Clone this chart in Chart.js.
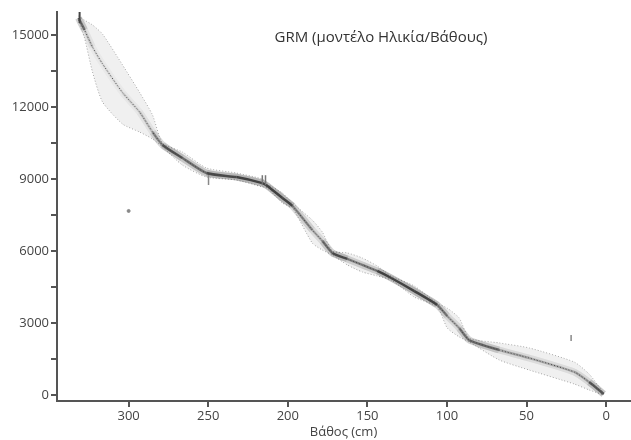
<!DOCTYPE html>
<html>
<head>
<meta charset="utf-8">
<title>GRM</title>
<script src="https://cdn.jsdelivr.net/npm/chart.js@4.4.1/dist/chart.umd.min.js"></script>
<style>
  html, body { margin: 0; padding: 0; background: #fff; overflow: hidden; }
  canvas { display: block; }
</style>
</head>
<body>
<canvas id="ageDepth" width="631" height="440"></canvas>
<script>
// Age-depth model: depth (cm) vs age (years), median with min/max envelope
const titleText = "GRM (μοντέλο Ηλικία/Βάθους)"
const xTitle = "Βάθος (cm)"

const depths = [331.5, 327.7, 322.7, 316.4, 303.8, 293.2, 285.0, 278.7, 266.2, 251.1, 232.3, 216.0, 212.8, 203.4, 197.1, 184.6,
    178.3, 172.0, 162.6, 153.2, 143.8, 135.0, 120.5, 106.1, 99.8, 92.3, 86.0, 67.2, 48.3, 20.1, 10.7, 1.5]
const medianAge = [15710, 15210, 14500, 13800, 12600, 11800, 10960, 10420, 9875, 9250, 9080, 8830, 8710, 8210, 7880, 6875,
    6420, 5920, 5670, 5420, 5170, 4875, 4330, 3750, 3290, 2790, 2290, 1875, 1540, 960, 540, 40]
const maxAge = [15790, 15620, 15420, 15040, 13750, 12620, 11670, 10500, 10125, 9460, 9250, 9000, 8790, 8420, 8000, 7290,
    6790, 6000, 5920, 5710, 5375, 4960, 4540, 3830, 3620, 3210, 2375, 2170, 1960, 1375, 875, 80]
const minAge = [15625, 14875, 13460, 12210, 11290, 10960, 10670, 10330, 9580, 9080, 8960, 8670, 8625, 8000, 7790, 6330,
    6040, 5830, 5420, 5125, 4960, 4790, 4080, 3670, 2790, 2420, 2210, 1460, 1040, 460, 210, 0]

// dated levels
const dateDepths = [330.8, 249.8, 216.0, 214.0, 300.0, 22.0]
const dateAges = [15750, 8960, 8950, 8950, 7670, 2375]

// axis ticks
const xTicks = [0, 50, 100, 150, 200, 250, 300]
const yTicks = [0, 1500, 3000, 4500, 6000, 7500, 9000, 10500, 12000, 13500, 15000]
const yLabels = [0, 3000, 6000, 9000, 12000, 15000]

const toPoints = (ys) => depths.map((d, i) => ({ x: d, y: ys[i] }))
const spread = (i) => Math.max(maxAge[i] - minAge[i], 1)
const segWidth = (ctx) => (spread(ctx.p0DataIndex) + spread(ctx.p1DataIndex)) / 2

const titlePlugin = {
    id: "chartTitle",
    afterDraw(chart) {
        const c = chart.ctx
        c.save()
        c.font = '15px "Open Sans", sans-serif'
        c.fillStyle = "#333"
        c.textAlign = "center"
        c.textBaseline = "middle"
        c.fillText(titleText, 381, 38)
        c.restore()
    },
}

Chart.defaults.font.family = '"Open Sans", sans-serif'
Chart.defaults.font.size = 13
Chart.defaults.color = "#444"

new Chart(document.getElementById("ageDepth"), {
    type: "line",
    data: {
        datasets: [
            {
                // median, dotted
                data: toPoints(medianAge),
                borderColor: "#444",
                borderWidth: 1,
                borderDash: [1, 2],
                pointRadius: 0,
                tension: 0.2,
                fill: false,
                order: 0,
            },
            {
                // dense core around the median
                data: toPoints(medianAge),
                borderWidth: 2.5,
                pointRadius: 0,
                tension: 0.2,
                fill: false,
                segment: {
                    borderColor: (ctx) => `rgba(0,0,0,${Math.min(0.65, 200 / segWidth(ctx)).toFixed(3)})`,
                },
                order: 2,
            },
            {
                // softer halo
                data: toPoints(medianAge),
                borderWidth: 7,
                pointRadius: 0,
                tension: 0.2,
                fill: false,
                segment: {
                    borderColor: (ctx) => `rgba(0,0,0,${Math.min(0.25, 80 / segWidth(ctx)).toFixed(3)})`,
                },
                order: 3,
            },
            {
                // older bound
                data: toPoints(maxAge),
                borderColor: "#a8a8a8",
                borderWidth: 1,
                borderDash: [1, 2],
                pointRadius: 0,
                tension: 0.2,
                fill: "+1",
                backgroundColor: "rgba(0,0,0,0.06)",
                order: 4,
            },
            {
                // younger bound
                data: toPoints(minAge),
                borderColor: "#a8a8a8",
                borderWidth: 1,
                borderDash: [1, 2],
                pointRadius: 0,
                tension: 0.2,
                fill: false,
                order: 5,
            },
            {
                // dates
                type: "scatter",
                data: dateDepths.map((d, i) => ({ x: d, y: dateAges[i] })),
                pointStyle: ["line", "line", "line", "line", "circle", "line"],
                rotation: 90,
                radius: [6, 5, 5, 5, 1.5, 3],
                borderWidth: [2, 1.5, 1.5, 1.5, 1, 1.5],
                borderColor: ["#444", "#888", "#777", "#777", "#888", "#888"],
                backgroundColor: "#888",
                order: 1,
            },
        ],
    },
    options: {
        responsive: false,
        animation: false,
        devicePixelRatio: 1,
        layout: { autoPadding: false, padding: { top: 12, right: 1, left: 0, bottom: 0 } },
        plugins: {
            legend: { display: false },
            tooltip: { enabled: false },
        },
        scales: {
            x: {
                type: "linear",
                reverse: true,
                min: -15,
                max: 345,
                afterBuildTicks: (scale) => {
                    scale.ticks = xTicks.map((v) => ({ value: v }))
                },
                afterFit: (scale) => {
                    scale.height = 39
                },
                ticks: { autoSkip: false, padding: 1, color: "#444", maxRotation: 0 },
                grid: { drawOnChartArea: false, drawTicks: true, tickLength: 6, color: "#555", lineWidth: 2 },
                border: { display: true, color: "#555", width: 2 },
                title: { display: true, text: xTitle, color: "#444", font: { size: 13 }, padding: { top: 0, bottom: 0 } },
            },
            y: {
                type: "linear",
                min: -250,
                max: 15960,
                afterBuildTicks: (scale) => {
                    scale.ticks = yTicks.map((v) => ({ value: v }))
                },
                afterFit: (scale) => {
                    scale.width = 57
                },
                ticks: {
                    autoSkip: false,
                    padding: 2,
                    color: "#444",
                    callback: (v) => (yLabels.includes(v) ? String(v) : ""),
                },
                grid: { drawOnChartArea: false, drawTicks: true, tickLength: 6, color: "#555", lineWidth: 2 },
                border: { display: true, color: "#555", width: 2 },
            },
        },
    },
    plugins: [titlePlugin],
})
</script>
</body>
</html>
